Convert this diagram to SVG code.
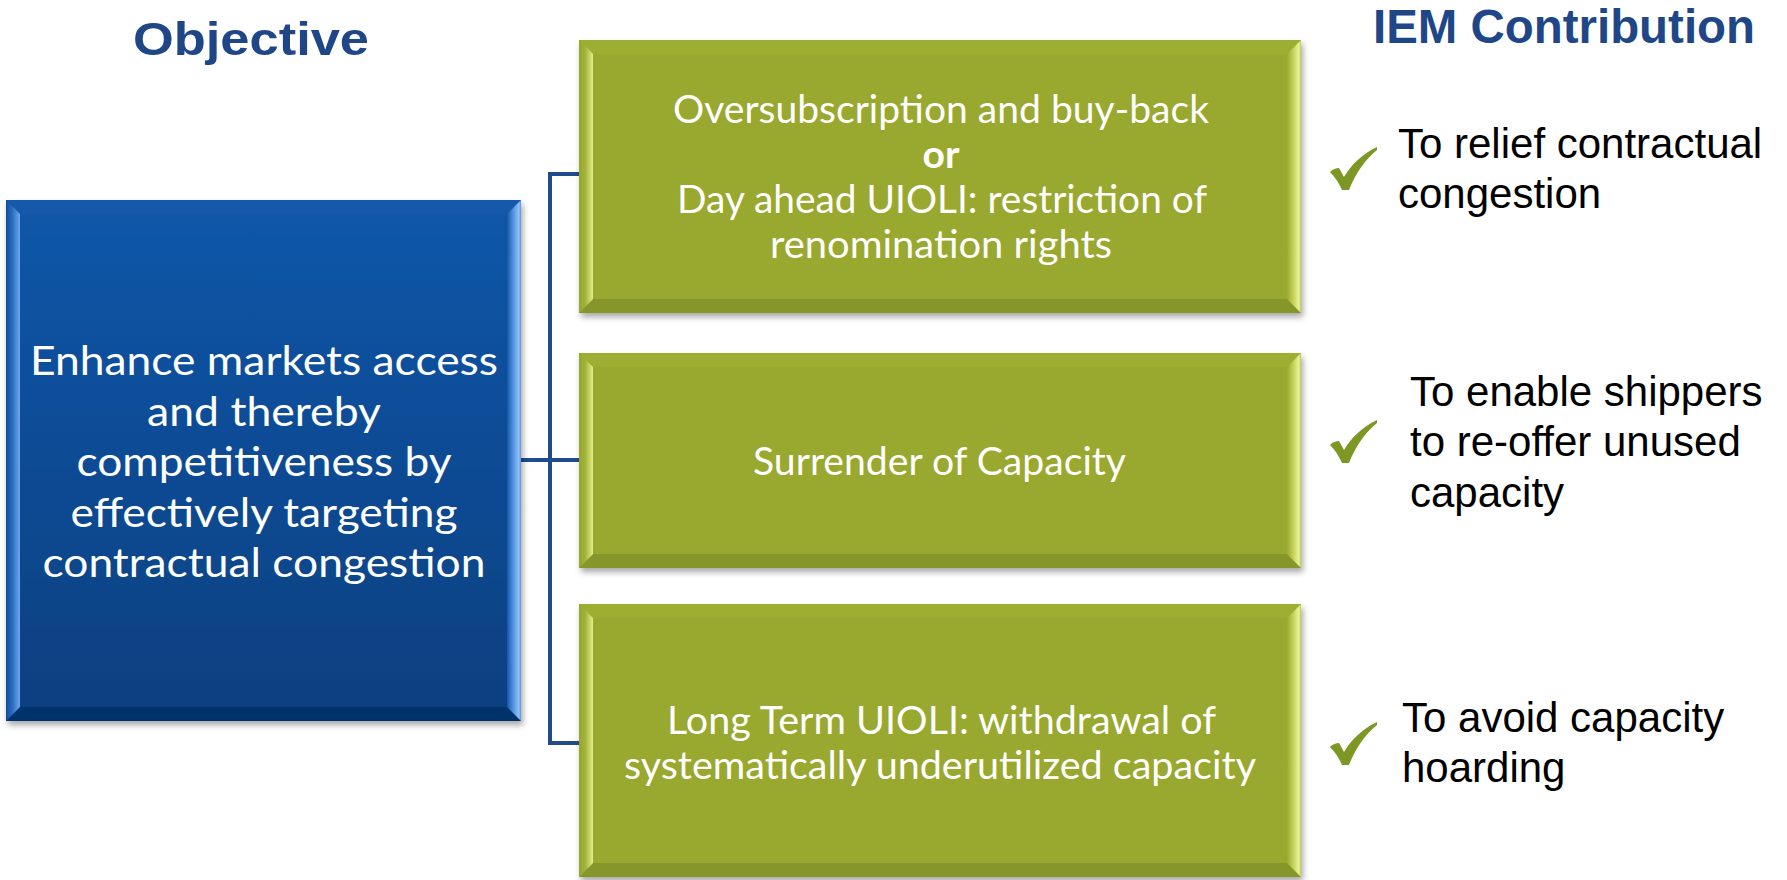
<svg xmlns="http://www.w3.org/2000/svg" width="1787" height="880" viewBox="0 0 1787 880">
<style>
.title{font-family:"Liberation Sans",Arial,sans-serif;font-weight:bold;fill:#1f4787}
.boxtxt{font-family:Lato,"Open Sans",sans-serif;fill:#ffffff;text-anchor:middle}
.bluetxt{font-size:40px}
.greentxt{font-size:39px}
.bold{font-weight:bold}
.iem{font-family:"Liberation Sans",Arial,sans-serif;font-size:42px;fill:#000000}
.conn{fill:none;stroke:#1f4d8c;stroke-width:4;stroke-linejoin:miter}
.tick{fill:#7d9724}
.gbody{fill:#99a82e}
.gtop{fill:#9eae33}
.gbot{fill:#86962a}
.gleft{fill:url(#gLeft)}
.gright{fill:url(#gRight)}
.bbody{fill:url(#bBody)}
.btop{fill:#1259aa}
.bbot{fill:#06326c}
.bleft{fill:url(#bLeft)}
.bright{fill:url(#bRight)}
</style>
<defs>
<filter id="shadow" x="-5%" y="-5%" width="112%" height="115%">
<feDropShadow dx="2" dy="4" stdDeviation="3" flood-color="#000000" flood-opacity="0.35"/>
</filter>
<linearGradient id="gLeft" x1="0" y1="0" x2="1" y2="0">
<stop offset="0" stop-color="#95a52c"/>
<stop offset="0.45" stop-color="#a3b23a"/>
<stop offset="1" stop-color="#e2ee88"/>
</linearGradient>
<linearGradient id="gRight" x1="0" y1="0" x2="1" y2="0">
<stop offset="0" stop-color="#9aaa30"/>
<stop offset="0.5" stop-color="#c8d660"/>
<stop offset="0.85" stop-color="#eaf494"/>
<stop offset="1" stop-color="#b9c850"/>
</linearGradient>
<linearGradient id="bBody" x1="0" y1="0" x2="0" y2="1">
<stop offset="0" stop-color="#1257a9"/>
<stop offset="1" stop-color="#073f80"/>
</linearGradient>
<linearGradient id="bLeft" x1="0" y1="0" x2="1" y2="0">
<stop offset="0" stop-color="#0e4f9c"/>
<stop offset="0.45" stop-color="#2b6cc0"/>
<stop offset="1" stop-color="#6ea8ef"/>
</linearGradient>
<linearGradient id="bRight" x1="0" y1="0" x2="1" y2="0">
<stop offset="0" stop-color="#1257a9"/>
<stop offset="0.5" stop-color="#5c9ae6"/>
<stop offset="0.85" stop-color="#8fc2fa"/>
<stop offset="1" stop-color="#5a92d8"/>
</linearGradient>
<path id="tickShape" d="M0,25 C3,22 6,21 9,21 L14,30 C21,18 32,7 47,0 L47,3 C36,12 26,25 19,43 L12,43 C9,36 5,30 0,25 Z"/>
</defs>
<rect width="1787" height="880" fill="#ffffff"/>

<text class="title" x="133" y="55" font-size="47" textLength="236" lengthAdjust="spacingAndGlyphs">Objective</text>
<text class="title" x="1373" y="43" font-size="48" textLength="382" lengthAdjust="spacingAndGlyphs">IEM Contribution</text>

<g id="connectors">
<path class="conn" d="M521,460 H579"/>
<path class="conn" d="M579,174 H550 V743 H579"/>
</g>

<g id="objective">
<g filter="url(#shadow)">
<rect class="bbody" x="6" y="200" width="515" height="521"/>
<polygon class="btop" points="6,200 521,200 507,214 20,214"/>
<polygon class="bbot" points="6,721 521,721 507,707 20,707"/>
<polygon class="bleft" points="6,200 20,214 20,707 6,721"/>
<polygon class="bright" points="507,214 521,200 521,721 507,707"/>
</g>
<text class="boxtxt bluetxt" x="264" y="375" textLength="468" lengthAdjust="spacingAndGlyphs">Enhance markets access</text>
<text class="boxtxt bluetxt" x="264" y="425.5" textLength="234" lengthAdjust="spacingAndGlyphs">and thereby</text>
<text class="boxtxt bluetxt" x="264" y="476" textLength="375" lengthAdjust="spacingAndGlyphs">competitiveness by</text>
<text class="boxtxt bluetxt" x="264" y="526.5" textLength="387" lengthAdjust="spacingAndGlyphs">effectively targeting</text>
<text class="boxtxt bluetxt" x="264" y="577" textLength="443" lengthAdjust="spacingAndGlyphs">contractual congestion</text>
</g>

<g id="measure1">
<g filter="url(#shadow)">
<rect class="gbody" x="579" y="40" width="722" height="273"/>
<polygon class="gtop" points="579,40 1301,40 1287,54 593,54"/>
<polygon class="gbot" points="579,313 1301,313 1287,299 593,299"/>
<polygon class="gleft" points="579,40 593,54 593,299 579,313"/>
<polygon class="gright" points="1287,54 1301,40 1301,313 1287,299"/>
</g>
<text class="boxtxt greentxt" x="941" y="123" textLength="536" lengthAdjust="spacingAndGlyphs">Oversubscription and buy-back</text>
<text class="boxtxt greentxt bold" x="941" y="168" textLength="37" lengthAdjust="spacingAndGlyphs">or</text>
<text class="boxtxt greentxt" x="942" y="213" textLength="530" lengthAdjust="spacingAndGlyphs">Day ahead UIOLI: restriction of</text>
<text class="boxtxt greentxt" x="941" y="258" textLength="342" lengthAdjust="spacingAndGlyphs">renomination rights</text>
</g>

<g id="measure2">
<g filter="url(#shadow)">
<rect class="gbody" x="579" y="353" width="722" height="215"/>
<polygon class="gtop" points="579,353 1301,353 1287,367 593,367"/>
<polygon class="gbot" points="579,568 1301,568 1287,554 593,554"/>
<polygon class="gleft" points="579,353 593,367 593,554 579,568"/>
<polygon class="gright" points="1287,367 1301,353 1301,568 1287,554"/>
</g>
<text class="boxtxt greentxt" x="939.5" y="475" textLength="373" lengthAdjust="spacingAndGlyphs">Surrender of Capacity</text>
</g>

<g id="measure3">
<g filter="url(#shadow)">
<rect class="gbody" x="579" y="604" width="722" height="273"/>
<polygon class="gtop" points="579,604 1301,604 1287,618 593,618"/>
<polygon class="gbot" points="579,877 1301,877 1287,863 593,863"/>
<polygon class="gleft" points="579,604 593,618 593,863 579,877"/>
<polygon class="gright" points="1287,618 1301,604 1301,877 1287,863"/>
</g>
<text class="boxtxt greentxt" x="941.5" y="734" textLength="549" lengthAdjust="spacingAndGlyphs">Long Term UIOLI: withdrawal of</text>
<text class="boxtxt greentxt" x="940" y="779" textLength="632" lengthAdjust="spacingAndGlyphs">systematically underutilized capacity</text>
</g>

<g id="contribution1">
<use href="#tickShape" class="tick" x="1330" y="147"/>
<text class="iem" x="1398" y="158">To relief contractual</text>
<text class="iem" x="1398" y="208">congestion</text>
</g>

<g id="contribution2">
<use href="#tickShape" class="tick" x="1330" y="420"/>
<text class="iem" x="1410" y="406">To enable shippers</text>
<text class="iem" x="1410" y="456">to re-offer unused</text>
<text class="iem" x="1410" y="507">capacity</text>
</g>

<g id="contribution3">
<use href="#tickShape" class="tick" x="1330" y="722"/>
<text class="iem" x="1402" y="732">To avoid capacity</text>
<text class="iem" x="1402" y="782">hoarding</text>
</g>
</svg>
